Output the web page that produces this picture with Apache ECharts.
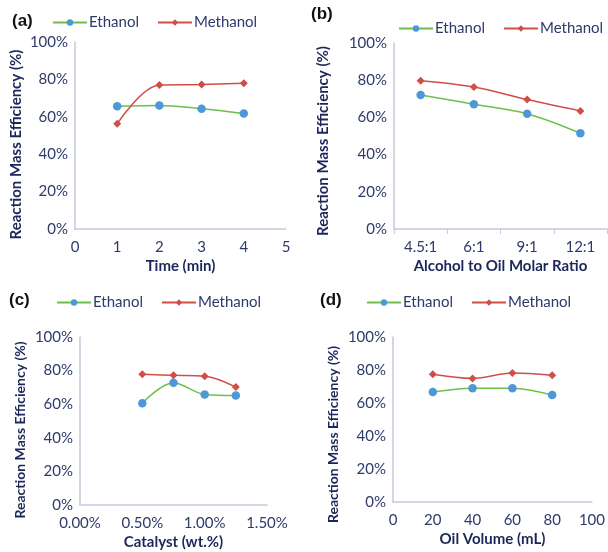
<!DOCTYPE html>
<html><head><meta charset="utf-8">
<script src="https://cdn.jsdelivr.net/npm/echarts@6/dist/echarts.min.js"></script>
<style>html,body{margin:0;padding:0;background:#fff}#c{width:608px;height:552px}</style>
</head><body><div id="c"></div>
<script>
const seriesNames = ['Ethanol', 'Methanol'];
const yTicks = [0, 20, 40, 60, 80, 100];
const timeX = [1, 2, 3, 4];
const timeEthanol = [65.6, 66.1, 64.3, 61.8];
const timeMethanol = [56.3, 77.0, 77.3, 78.0];
const ratioCats = ['4.5:1', '6:1', '9:1', '12:1'];
const ratioEthanol = [72.0, 67.1, 62.0, 51.5];
const ratioMethanol = [79.7, 76.3, 69.6, 63.5];
const catalystX = [0.5, 0.75, 1.0, 1.25];
const catalystEthanol = [60.6, 72.8, 65.8, 65.2];
const catalystMethanol = [77.8, 77.2, 76.7, 70.2];
const volumeX = [20, 40, 60, 80];
const volumeEthanol = [66.7, 69.0, 69.0, 64.8];
const volumeMethanol = [77.4, 74.9, 78.2, 76.8];
const panelLabels = ['(a)', '(b)', '(c)', '(d)'];
const xTitles = ['Time (min)', 'Alcohol to Oil Molar Ratio', 'Catalyst (wt.%)', 'Oil Volume (mL)'];
const yTitle = 'Reaction Mass Efficiency (%)';

const FONT = 'Lato, "DejaVu Sans", sans-serif';
const LABEL = '#2e3a6a';
const TITLE = '#1b2758';
const AXIS = '#c5cadb';
const GREEN = '#6cc04a';
const BLUE = '#4f98d8';
const RED = '#cf4e47';

const grids = [
  {left: 75, top: 42, width: 211, height: 187},
  {left: 394, top: 43, width: 213, height: 186},
  {left: 80, top: 337, width: 187, height: 168},
  {left: 393, top: 337, width: 201, height: 165}
];
const yNameGap = [51, 63, 53, 53];
const yNameSize = [15, 15, 14, 14];
const yNameShift = [18, 10, 18, 30];
const labelPos = [{left: 12, top: 13}, {left: 311, top: 6}, {left: 9, top: 292}, {left: 320, top: 292}];
const legendPos = [{left: 52, top: 15}, {left: 398, top: 21}, {left: 56, top: 295}, {left: 366, top: 295}];

const axisLine = {show: true, lineStyle: {color: AXIS, width: 1.5}};
const tickLabel = {color: LABEL, fontFamily: FONT, fontSize: 15};
const nameStyle = {color: TITLE, fontFamily: FONT, fontSize: 15, fontWeight: 'bold'};

const xAxes = [
  {type: 'value', gridIndex: 0, min: 0, max: 5, interval: 1, axisTick: {show: false}},
  {type: 'category', gridIndex: 1, data: ratioCats, boundaryGap: true, axisTick: {show: true, length: 5, lineStyle: {color: AXIS}}},
  {type: 'value', gridIndex: 2, min: 0, max: 1.5, interval: 0.5, axisTick: {show: false},
    axisLabel: {formatter: v => v.toFixed(2) + '%'}},
  {type: 'value', gridIndex: 3, min: 0, max: 100, interval: 20, axisTick: {show: false}}
].map((a, i) => Object.assign({
  name: xTitles[i], nameLocation: 'middle', nameGap: 30, nameTextStyle: nameStyle,
  axisLine: axisLine, splitLine: {show: false}
}, a, {axisLabel: Object.assign({margin: 11}, tickLabel, a.axisLabel || {})}));

const yAxes = grids.map((g, i) => ({
  type: 'value', gridIndex: i, min: yTicks[0], max: yTicks[yTicks.length - 1], interval: 20,
  name: yTitle, nameLocation: 'middle', nameGap: yNameGap[i], nameRotate: 90,
  nameTextStyle: Object.assign({}, nameStyle, {fontSize: yNameSize[i], padding: [0, yNameShift[i], 0, 0]}),
  axisLine: axisLine, axisTick: {show: false}, splitLine: {show: false},
  axisLabel: Object.assign({margin: 7, formatter: '{value}%'}, tickLabel)
}));

function pair(xs, ys) { return xs.map((x, i) => [x, ys[i]]); }
const panelData = [
  [pair(timeX, timeEthanol), pair(timeX, timeMethanol)],
  [ratioEthanol, ratioMethanol],
  [pair(catalystX, catalystEthanol), pair(catalystX, catalystMethanol)],
  [pair(volumeX, volumeEthanol), pair(volumeX, volumeMethanol)]
];

const series = [];
panelData.forEach((pd, i) => {
  series.push({
    name: seriesNames[0], type: 'line', xAxisIndex: i, yAxisIndex: i, data: pd[0], smooth: 0.35,
    symbol: 'circle', symbolSize: 8.5, lineStyle: {color: GREEN, width: 1.5},
    itemStyle: {color: BLUE}
  });
  series.push({
    name: seriesNames[1], type: 'line', xAxisIndex: i, yAxisIndex: i, data: pd[1], smooth: 0.35,
    symbol: 'diamond', symbolSize: 8, lineStyle: {color: RED, width: 1.5},
    itemStyle: {color: RED}
  });
});

const option = {
  animation: false,
  backgroundColor: '#fff',
  title: panelLabels.map((t, i) => Object.assign({
    text: t, padding: 0, textStyle: {fontFamily: '"Liberation Sans", Arial, sans-serif', fontSize: 17, fontWeight: 'bold', color: '#111'}
  }, labelPos[i])),
  legend: legendPos.map(p => Object.assign({
    data: seriesNames, padding: 0, itemWidth: 34, itemHeight: 8, itemGap: 18,
    textStyle: {color: LABEL, fontFamily: FONT, fontSize: 15, padding: [0, 0, 0, -3]}
  }, p)),
  grid: grids,
  xAxis: xAxes,
  yAxis: yAxes,
  series: series
};
const chart = echarts.init(document.getElementById('c'), null, {renderer: 'canvas'});
chart.setOption(option);
</script></body></html>
